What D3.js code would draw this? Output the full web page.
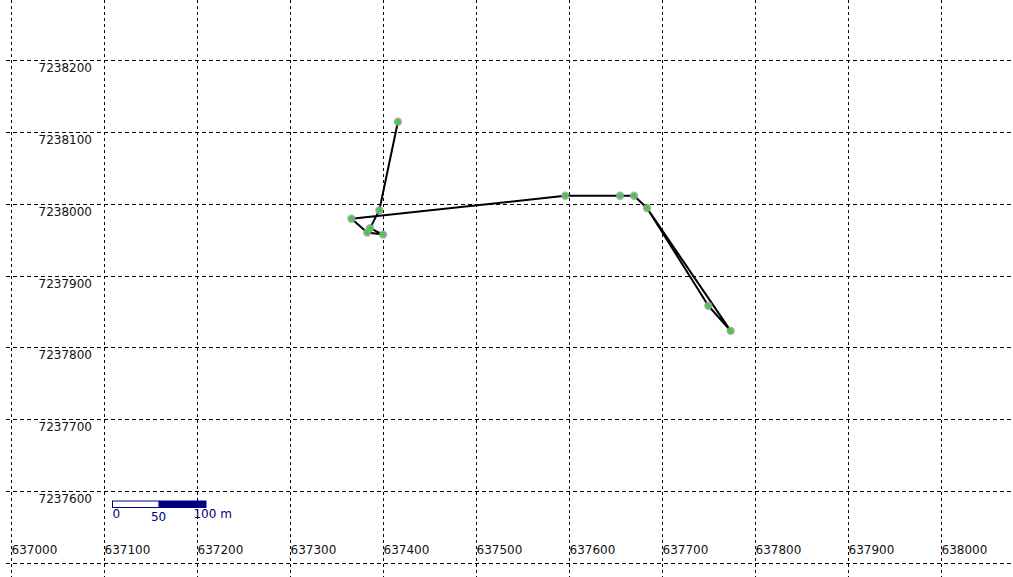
<!DOCTYPE html>
<html>
<head>
<meta charset="utf-8">
<script src="https://cdn.jsdelivr.net/npm/d3@7"></script>
<style>
  html, body { margin: 0; padding: 0; background: #fff; }
  svg { display: block; }
</style>
</head>
<body>
<svg id="chart" width="1013" height="577"></svg>
<script>
// ---- Data (track points, in order) ----
const eastings  = [637416, 637396, 637386, 637400, 637383, 637366, 637596, 637655, 637670, 637684, 637750, 637774, 637684];
const northings = [7238114, 7237991, 7237966, 7237957, 7237960, 7237979, 7238011, 7238011, 7238011, 7237994, 7237858, 7237823, 7237994];
// marker points (unique vertices)
const markerIdx = [0,1,2,3,4,5,6,7,8,9,10,11];

const xTicks = [637000, 637100, 637200, 637300, 637400, 637500, 637600, 637700, 637800, 637900, 638000];
const yTicks = [7238200, 7238100, 7238000, 7237900, 7237800, 7237700, 7237600, 7237500];
const yLabelTicks = [7238200, 7238100, 7238000, 7237900, 7237800, 7237700, 7237600];
const scaleBarSteps = [0, 50, 100];
const scaleBarLabels = ["0", "50", "100 m"];

const W = 1013, H = 577;
const svg = d3.select("#chart");

const x = d3.scaleLinear().domain([637000, 638000]).range([11.3, 940.7]);
const y = d3.scaleLinear().domain([7237500, 7238200]).range([563, 60]);

// ---- Grid ----
const grid = svg.append("g").attr("stroke", "#000").attr("stroke-width", 1).attr("fill", "none");
grid.selectAll("line.v").data(xTicks).join("line")
  .attr("class", "v")
  .attr("x1", d => Math.round(x(d)) + 0.5).attr("x2", d => Math.round(x(d)) + 0.5)
  .attr("y1", 0).attr("y2", H)
  .attr("stroke-dasharray", "3,3");
grid.selectAll("line.h").data(yTicks).join("line")
  .attr("class", "h")
  .attr("y1", d => Math.round(y(d)) + 0.5).attr("y2", d => Math.round(y(d)) + 0.5)
  .attr("x1", 6).attr("x2", W)
  .attr("stroke-dasharray", "4,3");

// ---- Labels ----
const font = "DejaVu Sans, Verdana, sans-serif";
svg.append("g").selectAll("text").data(yLabelTicks).join("text")
  .attr("x", 92)
  .attr("y", d => Math.round(y(d)) + 12)
  .attr("text-anchor", "end")
  .attr("font-family", font).attr("font-size", 12).attr("fill", "#111")
  .text(d => d);

svg.append("g").selectAll("text").data(xTicks).join("text")
  .attr("x", d => Math.round(x(d)) + 0.5)
  .attr("y", 554)
  .attr("font-family", font).attr("font-size", 12).attr("fill", "#111")
  .text(d => d);

// ---- Track ----
const pts = eastings.map((e, i) => [e, northings[i]]);
svg.append("path")
  .datum(pts)
  .attr("fill", "none")
  .attr("stroke", "#000")
  .attr("stroke-width", 2)
  .attr("stroke-linejoin", "round")
  .attr("d", d3.line().x(d => x(d[0])).y(d => y(d[1])));

svg.append("g").selectAll("circle").data(markerIdx).join("circle")
  .attr("cx", i => x(eastings[i]))
  .attr("cy", i => y(northings[i]))
  .attr("r", 3)
  .attr("fill", "#10ee10")
  .attr("stroke", "#9a9a9a")
  .attr("stroke-opacity", 0.8)
  .attr("stroke-width", 2.4);

// ---- Scale bar ----
const sbX0 = 112.5, sbY = 501, sbH = 6.5;
const mPerPx = (x(637100) - x(637000)) / 100;
const sb = svg.append("g");
sb.append("rect")
  .attr("x", sbX0).attr("y", sbY)
  .attr("width", 50 * mPerPx).attr("height", sbH)
  .attr("fill", "#fff").attr("stroke", "#000080").attr("stroke-width", 1);
sb.append("rect")
  .attr("x", sbX0 + 50 * mPerPx).attr("y", sbY - 0.5)
  .attr("width", 50 * mPerPx + 1).attr("height", sbH + 1)
  .attr("fill", "#000080");
sb.selectAll("text").data(scaleBarSteps).join("text")
  .attr("x", (d, i) => sbX0 + d * mPerPx - (i === 1 ? 8 : 0) - (i === 2 ? 12 : 0))
  .attr("y", (d, i) => i === 1 ? 520.5 : 518)
  .attr("font-family", font).attr("font-size", 12).attr("fill", "#000080")
  .text((d, i) => scaleBarLabels[i]);
</script>
</body>
</html>
